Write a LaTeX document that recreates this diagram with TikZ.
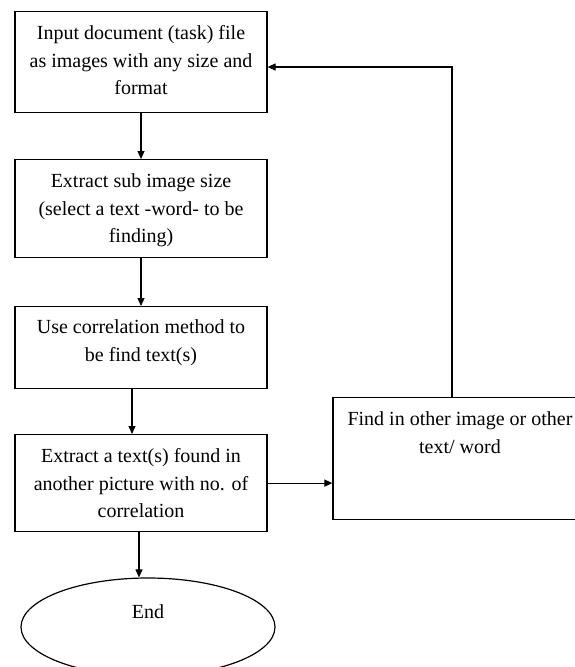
\documentclass[tikz,border=0pt]{standalone}
\usepackage{fontspec}
\setmainfont{Liberation Serif}
\usetikzlibrary{arrows.meta,shapes.geometric}

\begin{document}
\begin{tikzpicture}[x=1pt,y=-1pt,
  box/.style={draw, rectangle, line width=1.2pt, minimum width=252pt, inner xsep=2pt, inner ysep=0pt,
    anchor=north, align=center, font=\fontsize{20}{27.5}\selectfont},
  flow/.style={line width=1.1pt, -{Triangle[length=8pt,width=7pt]}}]
  \clip (0,0) rectangle (575,667);

  % main column
  \node[box, text height=83pt, text depth=18pt] (input) at (141,11) {Input document (task) file\\as images with any size and\\format};
  \node[box, text height=83pt, text depth=15pt] (extract) at (141,159) {Extract sub image size\\(select a text -word- to be\\finding)};
  \node[box, text height=54.5pt, text depth=27.5pt] (corr) at (141,306) {Use correlation method to\\be find text(s)};
  \node[box, text height=83pt, text depth=14pt] (found) at (141,434) {Extract a text(s) found in\\another picture with no. of\\correlation};
  \node[draw, ellipse, line width=1.2pt, minimum width=254pt, minimum height=98pt, inner sep=0pt,
    text height=14pt, text depth=32pt, font=\fontsize{20}{27.5}\selectfont] (end) at (148,627) {End};

  % side box
  \node[box, minimum width=254pt, text height=55.5pt, text depth=66.5pt] (other) at (460,397) {Find in other image or other\\text/ word};

  \draw[flow] (input) -- (extract);
  \draw[flow] (extract) -- (corr);
  \draw[flow] ([xshift=-9pt]corr.south) -- ([xshift=-9pt]found.north);
  \draw[flow] ([xshift=-2pt]found.south) -- ([xshift=-2pt]found.south |- end.north);
  \draw[flow] (found.east) -- (found.east -| other.west);

  % loop back
  \coordinate (turn) at (452,67);
  \draw[flow] ([xshift=-8pt]other.north) -- (turn) -- (input.east |- turn);
\end{tikzpicture}
\end{document}
